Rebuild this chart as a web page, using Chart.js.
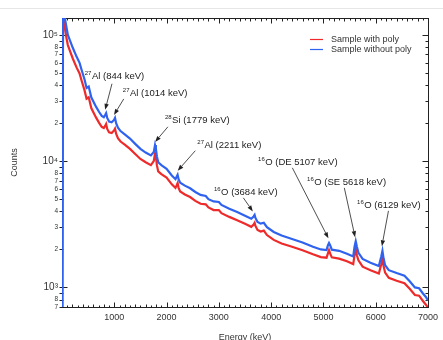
<!DOCTYPE html>
<html>
<head>
<meta charset="utf-8">
<script src="https://cdn.jsdelivr.net/npm/chart.js@4.4.1/dist/chart.umd.min.js"></script>
<style>
  html, body { margin: 0; padding: 0; background: #fff; }
  #wrap { width: 443px; height: 340px; position: relative; }
</style>
</head>
<body>
<div id="wrap"><canvas id="spectrum"></canvas></div>
<script>
// gamma spectrum, energy in keV
const energies = [
  5, 20, 50, 80, 112, 150, 206, 280, 336, 374, 430, 470, 511, 560, 650, 710, 760, 800, 825, 844,
  865, 900, 950, 995, 1014, 1035, 1070, 1120, 1200, 1300, 1400, 1500, 1600, 1700, 1755, 1779, 1795, 1815, 1840, 1900,
  2000, 2100, 2170, 2190, 2211, 2230, 2260, 2350, 2450, 2550, 2650, 2750, 2800, 2900, 3000, 3050, 3200, 3350,
  3500, 3620, 3665, 3684, 3700, 3740, 3800, 3860, 3920, 4050, 4200, 4400, 4600, 4800, 4950, 5060, 5085, 5107, 5130, 5160,
  5300, 5450, 5570, 5595, 5618, 5640, 5670, 5750, 5900, 6060, 6105, 6129, 6150, 6180, 6250, 6400, 6550, 6650, 6750, 6830,
  6900, 6960, 7000
];
const withPoly = [
  300, 170000, 118000, 97000, 83000, 75000, 65000, 55000, 49500, 43500, 36500, 31200, 32000, 26300, 22200, 20100, 18700, 18300, 19000, 19700,
  18000, 16900, 16700, 17500, 18100, 16500, 15200, 14300, 13500, 12500, 11400, 10400, 9800, 9300, 10000, 11500, 10900, 9300, 8300, 7900,
  7400, 6550, 6150, 6400, 6700, 6150, 5750, 5450, 5200, 4850, 4600, 4550, 4300, 4100, 4100, 3870, 3620, 3400,
  3190, 3020, 3150, 3250, 3070, 2850, 2770, 2820, 2600, 2380, 2230, 2100, 1970, 1830, 1740, 1720, 1850, 1970, 1850, 1730,
  1690, 1610, 1530, 1800, 2040, 1800, 1640, 1460, 1370, 1290, 1520, 1710, 1480, 1310, 1190, 1130, 1080, 975, 870, 860,
  785, 730, 690
];
const withoutPoly = [
  400, 200000, 140000, 118000, 100000, 91000, 79000, 67000, 60000, 53000, 44500, 38000, 39000, 32000, 27000, 24500, 22800, 22300, 23200, 24000,
  22000, 20600, 20300, 21200, 22000, 20000, 18400, 17300, 16300, 15100, 13700, 12500, 11700, 11100, 11800, 13400, 12600, 10900, 9800, 9300,
  8700, 7700, 7200, 7500, 7800, 7200, 6750, 6400, 6100, 5700, 5400, 5300, 5000, 4800, 4750, 4500, 4200, 3950,
  3700, 3500, 3650, 3750, 3550, 3300, 3200, 3250, 3000, 2750, 2580, 2420, 2270, 2100, 2000, 1980, 2150, 2250, 2150, 1990,
  1950, 1850, 1760, 2100, 2320, 2100, 1880, 1680, 1570, 1480, 1750, 1950, 1700, 1500, 1370, 1300, 1240, 1120, 1000, 985,
  900, 840, 790
];
const seriesNames = ['Sample with poly', 'Sample without poly'];
const seriesColors = ['#ee2a2a', '#2f62ee'];

const yTickValues = [700, 800, 1000, 2000, 3000, 4000, 5000, 6000, 7000, 8000,
  10000, 20000, 30000, 40000, 50000, 60000, 70000, 80000, 100000];
const powerLabels = { 1000: '10\u00b3', 10000: '10\u2074', 100000: '10\u2075' };

// labelled peaks: [energy, counts] for label start, arrow tail and arrow tip
const peakNotes = [
  { iso: '27', text: 'Al (844 keV)', at: [435, 45000], from: [956, 41000], to: [825, 25500] },
  { iso: '27', text: 'Al (1014 keV)', at: [1163, 32900], from: [1181, 31100], to: [994, 23200] },
  { iso: '28', text: 'Si (1779 keV)', at: [1969, 20100], from: [2025, 18700], to: [1781, 14200] },
  { iso: '27', text: 'Al (2211 keV)', at: [2588, 12700], from: [2550, 12100], to: [2213, 8400] },
  { iso: '16', text: 'O (3684 keV)', at: [2906, 5400], from: [3469, 5120], to: [3650, 4000] },
  { iso: '16', text: 'O (DE 5107 keV)', at: [3750, 9350], from: [4406, 8850], to: [5095, 2450] },
  { iso: '16', text: 'O (SE 5618 keV)', at: [4688, 6490], from: [5400, 6140], to: [5606, 2500] },
  { iso: '16', text: 'O (6129 keV)', at: [5644, 4270], from: [6244, 4040], to: [6118, 2120] }
];

const FONT = '"Liberation Sans", Arial, sans-serif';

const framePlugin = {
  id: 'frame',
  beforeDatasetsDraw(chart) {
    const { ctx, chartArea: a, scales: { x, y } } = chart;
    ctx.save();
    ctx.strokeStyle = '#e6e6e6';
    ctx.lineWidth = 1;
    ctx.beginPath();
    ctx.moveTo(0, 8.5);
    ctx.lineTo(chart.width, 8.5);
    ctx.stroke();

    ctx.strokeStyle = '#222';
    const L = Math.round(a.left) + 0.5, R = Math.round(a.right) + 0.5;
    const T = Math.round(a.top) + 0.5, B = Math.round(a.bottom) + 0.5;
    ctx.strokeRect(L, T, R - L, B - T);

    ctx.beginPath();
    for (let e = 0; e <= 7000; e += 100) {
      const px = Math.round(x.getPixelForValue(e)) + 0.5;
      const len = e % 1000 === 0 ? 5 : (e % 200 === 0 ? 3 : 2);
      ctx.moveTo(px, B); ctx.lineTo(px, B - len);
      ctx.moveTo(px, T); ctx.lineTo(px, T + len);
    }
    for (let dec = 100; dec <= 100000; dec *= 10) {
      for (let m = 1; m <= 9; m++) {
        const v = m * dec;
        if (v < y.min || v > y.max) continue;
        const py = Math.round(y.getPixelForValue(v)) + 0.5;
        if (m === 1) {
          ctx.moveTo(L - 3, py); ctx.lineTo(L + 5, py);
          ctx.moveTo(R - 6, py); ctx.lineTo(R, py);
        } else {
          ctx.moveTo(L - 3, py); ctx.lineTo(L + 1, py);
          ctx.moveTo(R - 3, py); ctx.lineTo(R, py);
        }
      }
    }
    ctx.stroke();
    ctx.restore();
  },
  afterDraw(chart) {
    const { ctx, scales: { x, y } } = chart;
    ctx.save();

    // legend, top right inside the frame
    chart.data.datasets.forEach((ds, i) => {
      const ly = 39.5 + i * 10;
      ctx.strokeStyle = seriesColors[i];
      ctx.lineWidth = 1.2;
      ctx.beginPath();
      ctx.moveTo(310, ly); ctx.lineTo(323, ly);
      ctx.stroke();
      ctx.fillStyle = '#333';
      ctx.font = '9px ' + FONT;
      ctx.textBaseline = 'middle';
      ctx.fillText(ds.label, 331, ly);
    });

    // peak labels with arrows
    ctx.textBaseline = 'alphabetic';
    peakNotes.forEach(n => {
      const sx = x.getPixelForValue(n.at[0]);
      const sy = y.getPixelForValue(n.at[1]);
      ctx.fillStyle = '#222';
      ctx.font = '6px ' + FONT;
      ctx.fillText(n.iso, sx, sy - 4);
      const w = ctx.measureText(n.iso).width;
      ctx.font = '9.5px ' + FONT;
      ctx.fillText(n.text, sx + w + 0.5, sy);

      const x0 = x.getPixelForValue(n.from[0]), y0 = y.getPixelForValue(n.from[1]);
      const x1 = x.getPixelForValue(n.to[0]), y1 = y.getPixelForValue(n.to[1]);
      const ang = Math.atan2(y1 - y0, x1 - x0);
      const head = 6, half = 2.2;
      ctx.strokeStyle = '#222';
      ctx.lineWidth = 0.8;
      ctx.beginPath();
      ctx.moveTo(x0, y0);
      ctx.lineTo(x1 - Math.cos(ang) * head, y1 - Math.sin(ang) * head);
      ctx.stroke();
      ctx.beginPath();
      ctx.moveTo(x1, y1);
      ctx.lineTo(x1 - Math.cos(ang) * head - Math.sin(ang) * half, y1 - Math.sin(ang) * head + Math.cos(ang) * half);
      ctx.lineTo(x1 - Math.cos(ang) * head + Math.sin(ang) * half, y1 - Math.sin(ang) * head - Math.cos(ang) * half);
      ctx.closePath();
      ctx.fill();
    });
    ctx.restore();
  }
};

const toPoints = vals => energies.map((e, i) => ({ x: e, y: vals[i] }));

const ctx = document.getElementById('spectrum').getContext('2d');
new Chart(ctx, {
  type: 'line',
  data: {
    datasets: [
      { label: seriesNames[0], data: toPoints(withPoly), borderColor: seriesColors[0], borderWidth: 2.2, pointRadius: 0, tension: 0, order: 1 },
      { label: seriesNames[1], data: toPoints(withoutPoly), borderColor: seriesColors[1], borderWidth: 2.2, pointRadius: 0, tension: 0, order: 0 }
    ]
  },
  options: {
    responsive: true,
    maintainAspectRatio: false,
    animation: false,
    layout: { padding: { top: 18, right: 10, left: 0, bottom: 0 } },
    plugins: {
      legend: { display: false },
      tooltip: { enabled: false }
    },
    scales: {
      x: {
        type: 'linear',
        min: 0,
        max: 7000,
        afterFit: s => { s.height = 33; },
        grid: { display: false, drawTicks: false },
        border: { display: false },
        ticks: {
          stepSize: 1000,
          padding: 5,
          maxRotation: 0,
          autoSkip: false,
          color: '#333',
          font: { size: 9, family: FONT },
          callback: v => (v === 0 ? '' : String(v))
        },
        title: {
          display: true,
          text: 'Energy (keV)',
          color: '#333',
          font: { size: 9, family: FONT },
          padding: { top: 0, bottom: -3 }
        }
      },
      y: {
        type: 'logarithmic',
        min: 700,
        max: 136000,
        afterFit: s => { s.width = 62; },
        afterBuildTicks: s => {
          s.ticks = yTickValues.map(v => ({ value: v, major: !!powerLabels[v] }));
        },
        grid: { display: false, drawTicks: false },
        border: { display: false },
        ticks: {
          autoSkip: false,
          padding: 4,
          color: '#333',
          font: c => ({ size: (c.tick && powerLabels[c.tick.value]) ? 10 : 6.5, family: FONT }),
          callback: v => powerLabels[v] || String(Math.round(v / Math.pow(10, Math.floor(Math.log10(v)))))
        },
        title: {
          display: true,
          text: 'Counts',
          color: '#333',
          font: { size: 9, family: FONT },
          padding: { top: 9 }
        }
      }
    }
  },
  plugins: [framePlugin]
});
</script>
</body>
</html>
